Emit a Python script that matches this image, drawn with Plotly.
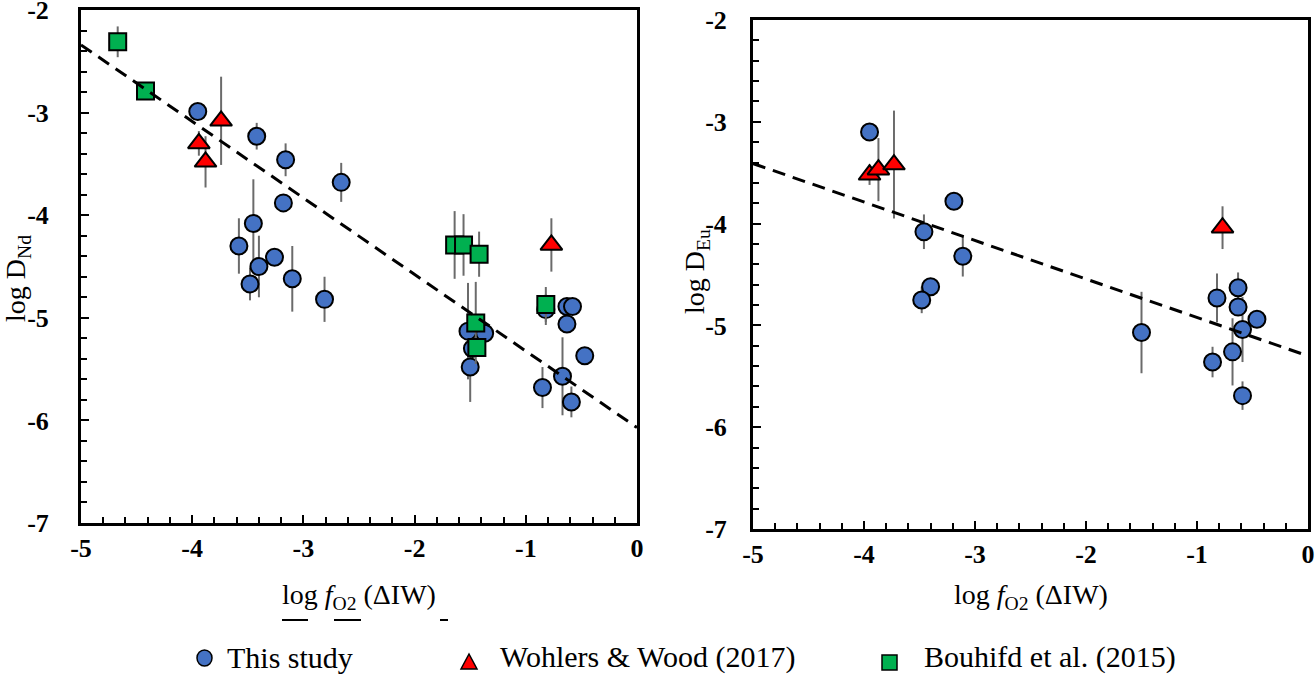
import plotly.graph_objects as go

# ---------------- data ----------------
x_tickvals = [-5, -4, -3, -2, -1, 0]
x_ticktext = ["-5", "-4", "-3", "-2", "-1", "0"]
y_tickvals = [-7, -6, -5, -4, -3, -2]
y_ticktext = ["-7", "-6", "-5", "-4", "-3", "-2"]

series_names = ["This study", "Wohlers & Wood (2017)", "Bouhifd et al. (2015)"]

# log D(Nd) panel
nd_this_x = [-3.95, -3.42, -3.16, -2.66, -3.18, -3.45, -3.58, -3.26, -3.40, -3.48, -3.10, -2.81,
             -1.52, -1.37, -1.48, -1.50, -0.82, -0.63, -0.58, -0.63, -0.47, -0.67, -0.85, -0.59]
nd_this_y = [-2.99, -3.23, -3.46, -3.68, -3.88, -4.08, -4.30, -4.41, -4.50, -4.67, -4.62, -4.82,
             -5.13, -5.15, -5.30, -5.48, -4.92, -4.89, -4.89, -5.06, -5.37, -5.57, -5.68, -5.82]
nd_this_err = [0.05, 0.13, 0.16, 0.19, 0.05, 0.43, 0.27, 0.0, 0.30, 0.16, 0.32, 0.22,
               0.47, 0.0, 0.0, 0.34, 0.15, 0.05, 0.05, 0.05, 0.0, 0.38, 0.20, 0.15]

nd_ww_x = [-3.74, -3.94, -3.88, -0.77]
nd_ww_y = [-3.08, -3.30, -3.48, -4.29]
nd_ww_err = [0.43, 0.12, 0.25, 0.26]

nd_bh_x = [-4.67, -4.42, -1.64, -1.56, -1.42, -1.45, -1.44, -0.82]
nd_bh_y = [-2.31, -2.79, -4.29, -4.29, -4.38, -5.05, -5.29, -4.87]
nd_bh_err = [0.15, 0.0, 0.33, 0.30, 0.22, 0.40, 0.0, 0.17]

nd_fit_intercept = -6.07
nd_fit_slope = -0.746

# log D(Eu) panel
eu_this_x = [-3.95, -3.19, -3.46, -3.11, -3.40, -3.48, -1.50, -0.82, -0.63, -0.63, -0.46,
             -0.59, -0.68, -0.86, -0.59]
eu_this_y = [-3.10, -3.78, -4.08, -4.32, -4.62, -4.75, -5.07, -4.73, -4.63, -4.82, -4.94,
             -5.04, -5.26, -5.36, -5.69]
eu_this_err = [0.0, 0.0, 0.17, 0.20, 0.0, 0.13, 0.40, 0.24, 0.15, 0.0, 0.0,
               0.32, 0.33, 0.15, 0.14]

eu_ww_x = [-3.95, -3.87, -3.73, -0.77]
eu_ww_y = [-3.52, -3.47, -3.42, -4.04]
eu_ww_err = [0.10, 0.31, 0.53, 0.21]

eu_fit_intercept = -5.30
eu_fit_slope = -0.378

# ---------------- styling ----------------
W, H = 1316, 674
BLUE, RED, GREEN, ERR = "#4472C4", "#FF0000", "#00B050", "#6b6b6b"
SERIF = "Liberation Serif"


def px(x):
    return x / W


def py(y):
    return 1 - y / H


fig = go.Figure()


def add_series(x, y, err, symbol, color, size, xa, ya, name):
    fig.add_trace(go.Scatter(
        x=x, y=y, mode="markers", name=name, xaxis=xa, yaxis=ya, showlegend=False,
        marker=dict(symbol=symbol, color=color, size=size, line=dict(color="black", width=2)),
        error_y=dict(type="data", array=err, color=ERR, thickness=2, width=0),
    ))


def add_fit(intercept, slope, xa, ya):
    xs = [x_tickvals[0], x_tickvals[-1]]
    ys = [intercept + slope * v for v in xs]
    fig.add_trace(go.Scatter(x=xs, y=ys, mode="lines", xaxis=xa, yaxis=ya, showlegend=False,
                             line=dict(color="black", width=3, dash="13px,8px")))


add_series(nd_this_x, nd_this_y, nd_this_err, "circle", BLUE, 17, "x", "y", series_names[0])
add_series(nd_ww_x, nd_ww_y, nd_ww_err, "triangle-up", RED, 19, "x", "y", series_names[1])
add_series(nd_bh_x, nd_bh_y, nd_bh_err, "square", GREEN, 17, "x", "y", series_names[2])
add_fit(nd_fit_intercept, nd_fit_slope, "x", "y")

add_series(eu_this_x, eu_this_y, eu_this_err, "circle", BLUE, 17, "x2", "y2", series_names[0])
add_series(eu_ww_x, eu_ww_y, eu_ww_err, "triangle-up", RED, 19, "x2", "y2", series_names[1])
add_fit(eu_fit_intercept, eu_fit_slope, "x2", "y2")

tickfont = dict(family=SERIF, size=26, color="black", weight="bold")
minor = dict(ticks="inside", tickmode="linear", tick0=0, dtick=0.2, ticklen=6,
             tickwidth=2, tickcolor="black", showgrid=False)
common = dict(showline=True, linewidth=3, linecolor="black", mirror=True, ticks="inside",
              ticklen=8, tickwidth=2, tickcolor="black", showgrid=False, zeroline=False,
              tickfont=tickfont, minor=minor, ticklabeloverflow="allow")

fig.update_layout(
    width=W, height=H, margin=dict(l=0, r=0, t=0, b=0, autoexpand=False),
    paper_bgcolor="white", plot_bgcolor="white", showlegend=False,
    xaxis=dict(domain=[px(81), px(637)], range=[-5, 0], anchor="y", tickmode="array",
               tickvals=x_tickvals, ticktext=x_ticktext, ticklabelstandoff=0, **common),
    yaxis=dict(domain=[py(523), py(10)], range=[-7, -2], anchor="x", tickmode="array",
               tickvals=y_tickvals, ticktext=y_ticktext, ticklabelstandoff=24, **common),
    xaxis2=dict(domain=[px(753), px(1308)], range=[-5, 0], anchor="y2", tickmode="array",
                tickvals=x_tickvals, ticktext=x_ticktext, ticklabelstandoff=0, **common),
    yaxis2=dict(domain=[py(529), py(20)], range=[-7, -2], anchor="x2", tickmode="array",
                tickvals=y_tickvals, ticktext=y_ticktext, ticklabelstandoff=18, **common),
)

# axis titles
title_font = dict(family=SERIF, size=28, color="black")
xtitle = "log <i>f</i><sub>O2</sub> (ΔIW)"
annotations = [
    dict(text=xtitle, x=px(359), y=py(596), xref="paper", yref="paper",
         xanchor="center", yanchor="middle", showarrow=False, font=title_font),
    dict(text=xtitle, x=px(1031), y=py(596), xref="paper", yref="paper",
         xanchor="center", yanchor="middle", showarrow=False, font=title_font),
    dict(text="log D<sub>Nd</sub>", x=px(17), y=py(279), xref="paper", yref="paper",
         xanchor="center", yanchor="middle", showarrow=False, textangle=-90, font=title_font),
    dict(text="log D<sub>Eu</sub>", x=px(697), y=py(272), xref="paper", yref="paper",
         xanchor="center", yanchor="middle", showarrow=False, textangle=-90, font=title_font),
]

# legend row (drawn by hand to keep the original spacing)
legend_font = dict(family=SERIF, size=30, color="black")
for name, x0 in zip(series_names, [225, 498, 922]):
    annotations.append(dict(text=name, x=px(x0), y=py(657), xref="paper", yref="paper",
                            xanchor="left", yanchor="middle", showarrow=False, font=legend_font))

shapes = [
    dict(type="circle", xref="paper", yref="paper", x0=px(197), x1=px(212), y0=py(666),
         y1=py(650), fillcolor=BLUE, line=dict(color="black", width=1.5)),
    dict(type="path", xref="paper", yref="paper",
         path=f"M {px(461)},{py(669)} L {px(477)},{py(669)} L {px(469)},{py(654)} Z",
         fillcolor=RED, line=dict(color="black", width=1.5)),
    dict(type="rect", xref="paper", yref="paper", x0=px(882), x1=px(897), y0=py(670),
         y1=py(655), fillcolor=GREEN, line=dict(color="black", width=1.5)),
]
# small stray rule marks under the left x title, as in the source figure
for a, b in [(282, 308), (334, 361), (440, 448)]:
    shapes.append(dict(type="line", xref="paper", yref="paper", x0=px(a), x1=px(b),
                       y0=py(620), y1=py(620), line=dict(color="black", width=2)))

fig.update_layout(annotations=annotations, shapes=shapes)

# drop the default page margin so the 1316x674 figure fills the window exactly
fig.write_html("out.html", config={"displayModeBar": False},
               post_script="document.body.style.margin='0';document.body.style.overflow='hidden';")
